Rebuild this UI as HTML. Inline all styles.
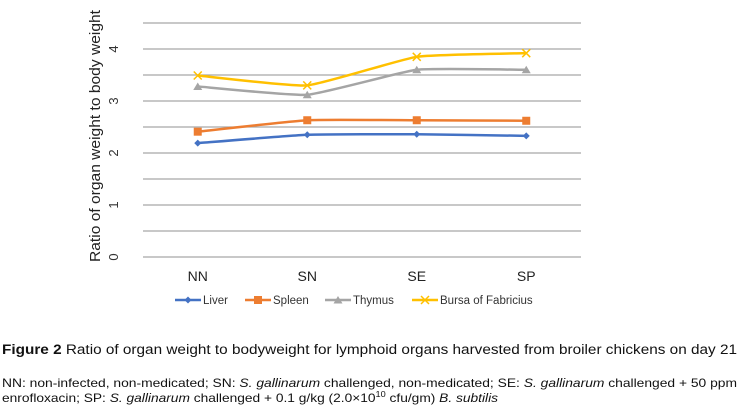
<!DOCTYPE html>
<html><head><meta charset="utf-8"><style>
body{margin:0;background:#fff;width:740px;height:408px;overflow:hidden}
svg{display:block;font-family:"Liberation Sans",Arial,sans-serif}
</style></head><body>
<svg id="c" width="740" height="408">
<g id="grid"></g><g id="series"></g>
<text transform="translate(100,136) rotate(-90)" text-anchor="middle" font-size="15" textLength="252" lengthAdjust="spacingAndGlyphs" fill="#222">Ratio of organ weight to body weight</text>
<g id="legend" font-size="11.5" fill="#333"></g>
<g fill="#111">
<text x="2" y="354" font-size="13.5" textLength="735" lengthAdjust="spacingAndGlyphs"><tspan font-weight="bold">Figure 2</tspan> Ratio of organ weight to bodyweight for lymphoid organs harvested from broiler chickens on day 21</text>
<text x="2" y="387" font-size="12" textLength="735" lengthAdjust="spacingAndGlyphs">NN: non-infected, non-medicated; SN: <tspan font-style="italic">S. gallinarum</tspan> challenged, non-medicated; SE: <tspan font-style="italic">S. gallinarum</tspan> challenged + 50 ppm</text>
<text x="2" y="402" font-size="12" textLength="496" lengthAdjust="spacingAndGlyphs">enrofloxacin; SP: <tspan font-style="italic">S. gallinarum</tspan> challenged + 0.1 g/kg (2.0×10<tspan font-size="8" dy="-5">10</tspan><tspan dy="5"> cfu/gm) </tspan><tspan font-style="italic">B. subtilis</tspan></text>
</g>
</svg>
<script>
const categories=["NN","SN","SE","SP"];
const liver=[2.19,2.35,2.36,2.33];
const spleen=[2.41,2.63,2.63,2.62];
const thymus=[3.28,3.12,3.60,3.60];
const bursa=[3.49,3.30,3.85,3.92];
const yTicks=[0,1,2,3,4];
const NS="http://www.w3.org/2000/svg";
const x0=143,x1=581,yBase=257,pxPerUnit=52;
const xs=i=>x0+(x1-x0)/categories.length*(i+0.5);
const ys=v=>yBase-v*pxPerUnit;
function mk(t,a,p){const e=document.createElementNS(NS,t);for(const k in a)e.setAttribute(k,a[k]);p.appendChild(e);return e;}
const grid=document.getElementById('grid');
for(let v=0;v<=4.5;v+=0.5){const l=mk('line',{x1:x0,x2:x1,y1:ys(v),y2:ys(v),stroke:'#a6a6a6','stroke-width':1.3},grid);

}
yTicks.forEach(v=>{const t=mk('text',{transform:`translate(118,${ys(v)}) rotate(-90)`,'text-anchor':'middle','font-size':13,fill:'#333'},grid);t.textContent=v;

});
categories.forEach((c,i)=>{const t=mk('text',{x:xs(i),y:281,'text-anchor':'middle','font-size':14,fill:'#222'},grid);t.textContent=c;

});
const sg=document.getElementById('series');
function path(vals){const p=vals.map((v,i)=>[xs(i),ys(v)]);let d=`M${p[0][0]},${p[0][1]}`;
for(let i=0;i<p.length-1;i++){const a=p[Math.max(0,i-1)],b=p[i],c=p[i+1],e=p[Math.min(p.length-1,i+2)],k=0.07;
d+=` C${b[0]+(c[0]-a[0])*k},${b[1]+(c[1]-a[1])*k} ${c[0]-(e[0]-b[0])*k},${c[1]-(e[1]-b[1])*k} ${c[0]},${c[1]}`;}return d;}
function marker(type,x,y,col,g){
if(type==='diamond')return mk('path',{d:`M${x-3.5},${y}L${x},${y-3.5}L${x+3.5},${y}L${x},${y+3.5}Z`,fill:col},g);
if(type==='square')return mk('rect',{x:x-4,y:y-4,width:8,height:8,fill:col},g);
if(type==='tri')return mk('path',{d:`M${x-4.5},${y+3.5}L${x},${y-4}L${x+4.5},${y+3.5}Z`,fill:col},g);
return mk('path',{d:`M${x-4},${y-4}L${x+4},${y+4}M${x-4},${y+4}L${x+4},${y-4}`,stroke:col,'stroke-width':1.5},g);}
const defs=[["liver",liver,"#4472c4","diamond","Liver",175],["spleen",spleen,"#ed7d31","square","Spleen",245],["thymus",thymus,"#a5a5a5","tri","Thymus",325],["bursa",bursa,"#ffc000","x","Bursa of Fabricius",412]];
const lg=document.getElementById('legend');
defs.forEach(([n,vals,col,m,label,lx])=>{
const g=mk('g',{},sg);


mk('path',{d:path(vals),fill:'none',stroke:col,'stroke-width':2.5},g);
vals.forEach((v,i)=>{const mm=marker(m,xs(i),ys(v),col,g);

});
const e=mk('g',{},lg);


mk('line',{x1:lx,x2:lx+26,y1:300,y2:300,stroke:col,'stroke-width':2.5},e);
marker(m,lx+13,300,col,e);
const t=mk('text',{x:lx+28,y:304},e);t.textContent=label;});
</script>
</body></html>
